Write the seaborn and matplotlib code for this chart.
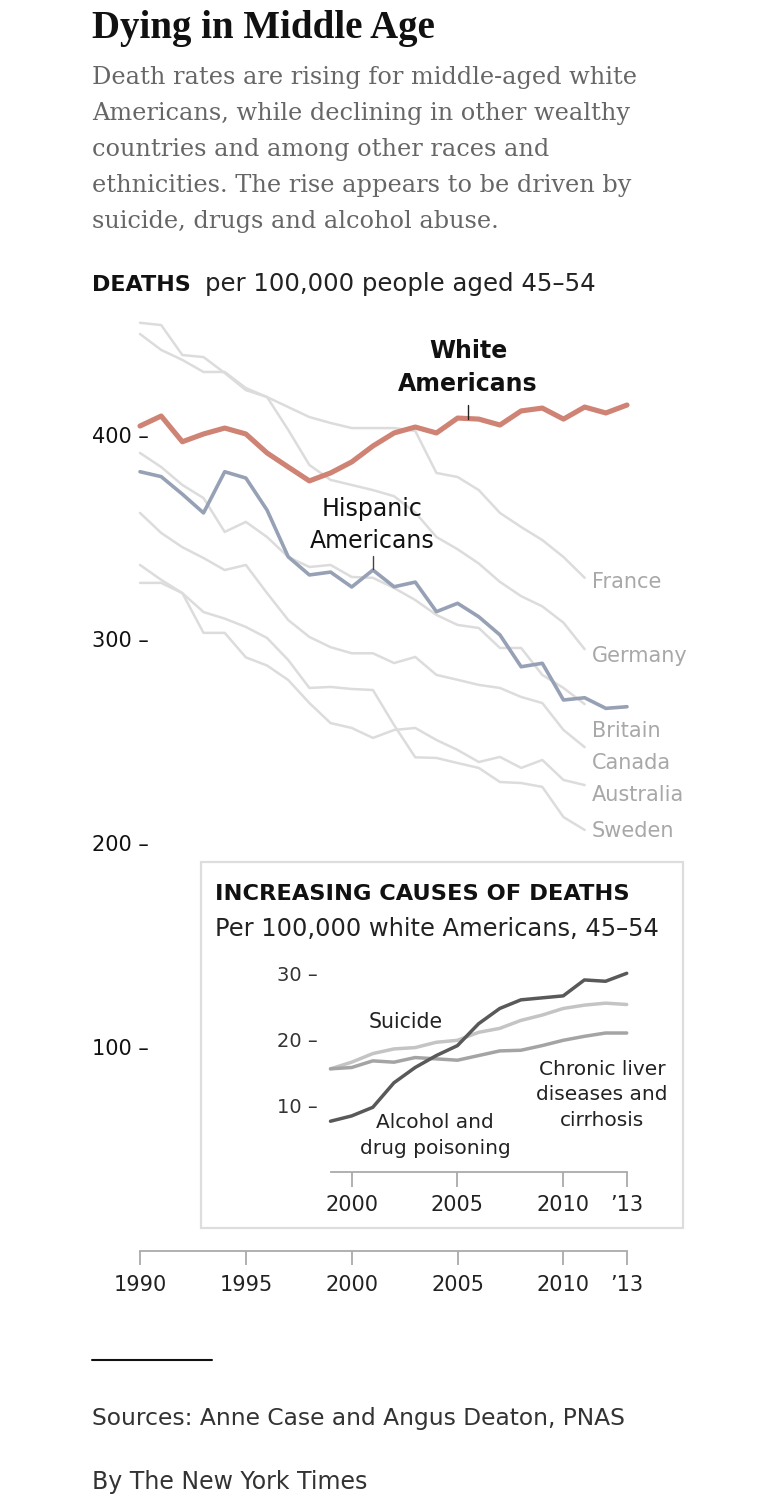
import numpy as np
import pandas as pd
import matplotlib
matplotlib.use("Agg")
import matplotlib.pyplot as plt
from matplotlib.patches import Rectangle
from matplotlib.lines import Line2D
import seaborn as sns

# ---------------- data ----------------
years = list(range(1990, 2014))
country_years = list(range(1990, 2012))

white_us = [404.4, 409.3, 396.7, 400.5, 403.4, 400.5, 391.2, 384.3, 377.5, 381.4, 386.8, 394.6,
            401.0, 403.9, 401.0, 408.3, 407.8, 404.9, 411.8, 413.2, 407.8, 413.7, 410.8, 414.7]
hispanic_us = [382.0, 379.6, 371.0, 361.8, 382.0, 378.9, 363.2, 340.3, 331.4, 332.8, 325.5, 333.8,
               325.6, 327.9, 313.4, 317.5, 310.9, 302.0, 286.4, 288.1, 270.1, 271.2, 266.0, 266.8]

countries = ["France", "Germany", "Britain", "Canada", "Australia", "Sweden"]
france = [449.5, 441.7, 436.8, 430.9, 430.9, 423.0, 418.6, 413.7, 408.8, 405.9, 403.4, 403.4,
          403.4, 402.0, 381.4, 379.4, 373.0, 361.8, 354.9, 348.5, 340.2, 330.0]
germany = [455.0, 453.9, 439.2, 438.2, 430.4, 422.0, 418.6, 402.5, 385.3, 378.0, 375.5, 373.0,
           370.0, 362.0, 350.0, 344.0, 337.0, 328.0, 321.0, 316.0, 308.0, 295.0]
britain = [391.2, 384.3, 375.5, 369.1, 352.5, 357.4, 350.0, 340.2, 335.3, 336.3, 330.4, 330.0,
           325.0, 319.1, 311.8, 306.9, 305.4, 295.6, 295.6, 282.4, 276.0, 268.1]
canada = [361.8, 352.0, 345.0, 339.7, 333.8, 336.3, 322.5, 309.3, 301.0, 296.0, 293.0, 293.0,
          288.2, 291.2, 282.4, 280.0, 277.5, 276.0, 271.6, 268.6, 255.4, 247.0]
australia = [327.5, 327.5, 322.5, 303.0, 303.0, 291.0, 287.0, 279.9, 268.6, 258.8, 256.4, 251.5,
             255.4, 256.4, 250.5, 245.6, 239.7, 242.2, 236.8, 240.7, 230.9, 228.4]
sweden = [336.3, 329.0, 322.5, 313.2, 310.0, 305.9, 300.5, 289.7, 276.0, 276.5, 275.5, 275.0,
          257.8, 242.0, 241.7, 239.2, 236.8, 229.9, 229.4, 227.5, 212.7, 206.4]
country_values = [france, germany, britain, canada, australia, sweden]

main_xticks = [1990, 1995, 2000, 2005, 2010, 2013]
main_xticklabels = ["1990", "1995", "2000", "2005", "2010", "\u201913"]
main_yticks = [100, 200, 300, 400]
main_yticklabels = ["100 \u2013", "200 \u2013", "300 \u2013", "400 \u2013"]

inset_years = list(range(1999, 2014))
alcohol_drugs = [7.7, 8.5, 9.8, 13.5, 15.8, 17.6, 19.1, 22.4, 24.7, 26.0, 26.3, 26.6, 29.0, 28.8, 30.0]
suicide = [15.6, 16.6, 17.9, 18.6, 18.8, 19.6, 19.9, 21.1, 21.7, 22.9, 23.7, 24.7, 25.2, 25.5, 25.3]
liver = [15.6, 15.8, 16.8, 16.6, 17.3, 17.1, 16.9, 17.6, 18.3, 18.4, 19.1, 19.9, 20.5, 21.0, 21.0]

inset_xticks = [2000, 2005, 2010, 2013]
inset_xticklabels = ["2000", "2005", "2010", "\u201913"]
inset_yticks = [10, 20, 30]
inset_yticklabels = ["10 \u2013", "20 \u2013", "30 \u2013"]

# ---------------- style ----------------
sns.set_theme(style="white")
plt.rcParams['font.family'] = ['DejaVu Sans']

W, H = 780, 1507
fig = plt.figure(figsize=(W / 100, H / 100), dpi=100)
fig.patch.set_facecolor("white")


def fx(x):
    return x / W


def fy(y):
    return 1 - y / H


# ---------------- main axes ----------------
ax = fig.add_axes([fx(140), fy(1251), 487 / W, 460 * 2.04 / H])
ax.set_xlim(1990, 2013)
ax.set_ylim(0, 460)
ax.patch.set_alpha(0)

df_c = pd.DataFrame({
    "year": np.concatenate([country_years] * len(countries)),
    "rate": np.concatenate(country_values),
    "country": np.repeat(countries, len(country_years)),
})
sns.lineplot(data=df_c, x="year", y="rate", hue="country", palette=["#dcdcdc"] * 6,
             linewidth=1.8, legend=False, ax=ax, clip_on=False)

df_h = pd.DataFrame({"year": years, "rate": hispanic_us})
sns.lineplot(data=df_h, x="year", y="rate", color="#97a1b5", linewidth=2.6, ax=ax,
             clip_on=False, zorder=4)
df_w = pd.DataFrame({"year": years, "rate": white_us})
sns.lineplot(data=df_w, x="year", y="rate", color="#cf8374", linewidth=3.7, ax=ax,
             clip_on=False, zorder=5)

# leader ticks
ax.plot([2005.5, 2005.5], [407.6, 414.8], color="#222222", lw=1.0, zorder=6)
ax.plot([2001, 2001], [334.5, 340.5], color="#444444", lw=1.0, zorder=6)

ax.set_xlabel("")
ax.set_ylabel("")
for s in ["left", "right", "top"]:
    ax.spines[s].set_visible(False)
ax.spines["bottom"].set_color("#aaaaaa")
ax.spines["bottom"].set_linewidth(1.3)
ax.set_xticks(main_xticks)
ax.set_xticklabels(main_xticklabels)
ax.set_yticks(main_yticks)
ax.set_yticklabels(main_yticklabels)
ax.tick_params(axis="x", bottom=True, direction="out", length=10, width=1.3,
               color="#aaaaaa", pad=7, labelsize=15, labelcolor="#222222")
ax.tick_params(axis="y", left=True, length=0, pad=-6.5, labelsize=15, labelcolor="#111111")
for lab in ax.get_yticklabels():
    lab.set_horizontalalignment("right")

# ---------------- inset ----------------
rect = Rectangle((fx(201), fy(1228)), (683 - 201) / W, (1228 - 862) / H,
                 transform=fig.transFigure, facecolor="white", edgecolor="#dddddd",
                 linewidth=1.6, zorder=1)
fig.add_artist(rect)

axi = fig.add_axes([fx(330.5), fy(1172.3), 296.2 / W, 32 * 6.633 / H])
axi.set_zorder(3)
axi.patch.set_alpha(0)
axi.set_xlim(1999, 2013)
axi.set_ylim(0, 32)
df_i = pd.DataFrame({
    "year": inset_years * 3,
    "rate": suicide + liver + alcohol_drugs,
    "cause": ["Suicide"] * 15 + ["Liver"] * 15 + ["Alcohol"] * 15,
})
sns.lineplot(data=df_i, x="year", y="rate", hue="cause",
             palette={"Suicide": "#c4c4c4", "Liver": "#a4a4a4", "Alcohol": "#595959"},
             linewidth=2.5, legend=False, ax=axi, clip_on=False)
axi.set_xlabel("")
axi.set_ylabel("")
for s in ["left", "right", "top"]:
    axi.spines[s].set_visible(False)
axi.spines["bottom"].set_color("#aaaaaa")
axi.spines["bottom"].set_linewidth(1.3)
axi.set_xticks(inset_xticks)
axi.set_xticklabels(inset_xticklabels)
axi.set_yticks(inset_yticks)
axi.set_yticklabels(inset_yticklabels)
axi.tick_params(axis="x", bottom=True, direction="out", length=11, width=1.3,
                color="#aaaaaa", pad=5, labelsize=15, labelcolor="#222222")
axi.tick_params(axis="y", left=True, length=0, pad=9, labelsize=14, labelcolor="#333333")

# ---------------- texts ----------------
def T(x, y, s, **kw):
    fig.text(fx(x), fy(y), s, va="baseline", **kw)


T(92, 38, "Dying in Middle Age", family=["Liberation Serif", "DejaVu Serif"],
  fontweight="bold", fontsize=28, color="#111111")
sub = ["Death rates are rising for middle-aged white",
       "Americans, while declining in other wealthy",
       "countries and among other races and",
       "ethnicities. The rise appears to be driven by",
       "suicide, drugs and alcohol abuse."]
for i, line in enumerate(sub):
    T(92, 84 + 36 * i, line, family=["DejaVu Serif"], fontsize=17.3, color="#666666")

T(92, 291, "DEATHS", fontweight="bold", fontsize=16, color="#111111")
T(205, 291, "per 100,000 people aged 45\u201354", fontsize=17.6, color="#222222")

T(468, 358, "White", ha="center", fontweight="bold", fontsize=17, color="#111111")
T(468, 391, "Americans", ha="center", fontweight="bold", fontsize=17, color="#111111")
T(372, 516, "Hispanic", ha="center", fontsize=17, color="#111111")
T(372, 548, "Americans", ha="center", fontsize=17, color="#111111")

label_y = [588, 662, 737, 769, 801, 837]
for name, yy in zip(countries, label_y):
    T(592, yy, name, fontsize=15, color="#a8a8a8")

T(215, 900, "INCREASING CAUSES OF DEATHS", fontweight="bold", fontsize=16.2, color="#111111")
T(215, 936, "Per 100,000 white Americans, 45\u201354", fontsize=17.4, color="#222222")
T(406, 1028, "Suicide", ha="center", fontsize=14.8, color="#222222")
for i, line in enumerate(["Chronic liver", "diseases and", "cirrhosis"]):
    T(602, 1075 + 25.5 * i, line, ha="center", fontsize=14.5, color="#222222")
for i, line in enumerate(["Alcohol and", "drug poisoning"]):
    T(435, 1128 + 26 * i, line, ha="center", fontsize=14.5, color="#222222")

fig.add_artist(Line2D([fx(92), fx(212)], [fy(1360), fy(1360)], transform=fig.transFigure,
                      color="#111111", lw=1.5))
T(92, 1425, "Sources: Anne Case and Angus Deaton, PNAS", fontsize=16.8, color="#333333")
T(92, 1489, "By The New York Times", fontsize=17, color="#333333")

fig.savefig("out.png", dpi=100)
